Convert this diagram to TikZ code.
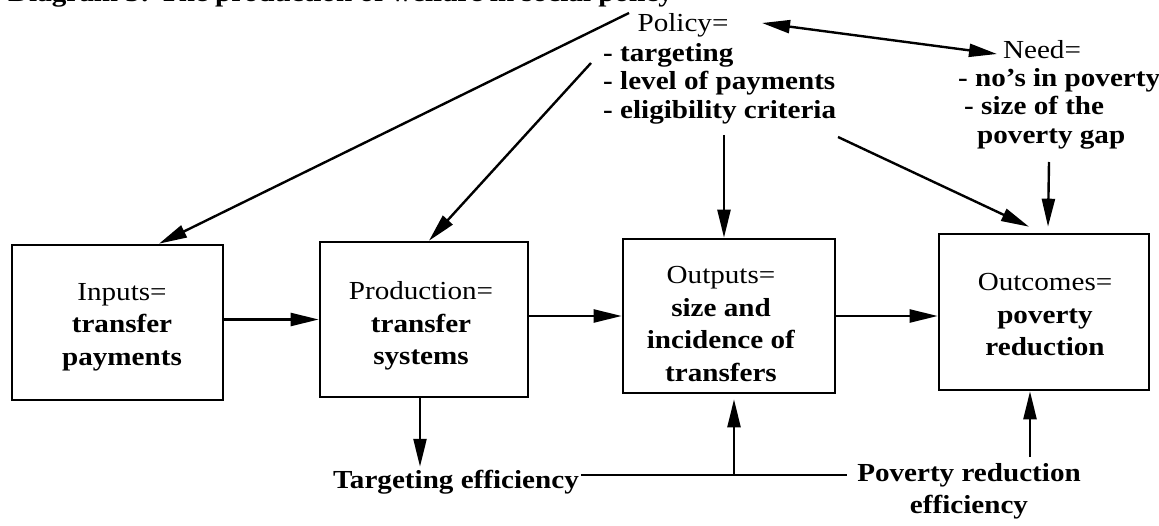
\documentclass[tikz,border=0pt]{standalone}
\usepackage{fontspec}
\setmainfont{Liberation Serif}[FakeStretch=1.12]
\usetikzlibrary{arrows.meta}
\begin{document}
\begin{tikzpicture}[x=1pt,y=-1pt,
  box/.style={draw, line width=2.6pt, inner sep=0pt},
  txt/.style={font=\fontsize{26}{32.5}\selectfont, align=center, inner sep=0pt},
  lst/.style={font=\fontsize{26}{28.5}\selectfont\bfseries, align=left, inner sep=0pt, anchor=west},
  arr/.style={line width=2.4pt, -{Triangle[length=28pt,width=13pt]}},
  dbl/.style={line width=2.4pt, {Triangle[length=28pt,width=13pt]}-{Triangle[length=28pt,width=13pt]}},
  ln/.style={line width=2.2pt}]
\useasboundingbox (0,0) rectangle (1159,526);

% title, cut off at the top edge as in the scan
\begin{scope}
\clip (0,0) rectangle (1159,12);
\node[font=\fontsize{26}{30}\selectfont\bfseries, anchor=base west, inner sep=0pt] (title) at (8,2) {Diagram 3: The production of welfare in social policy};
\end{scope}

% boxes
\node[box, minimum width=211pt, minimum height=155pt] (b1) at (117.5,322.5) {};
\node[box, minimum width=208pt, minimum height=155pt] (b2) at (424,319.5) {};
\node[box, minimum width=212pt, minimum height=154pt] (b3) at (729,316) {};
\node[box, minimum width=210pt, minimum height=156pt] (b4) at (1044,312) {};

% box texts
\node[txt] (t1) at (122,327) {Inputs=\\\textbf{transfer}\\\textbf{payments}};
\node[txt] (t2) at (421,326) {Production=\\\textbf{transfer}\\\textbf{systems}};
\node[txt] (t3) at (721,324) {Outputs=\\\textbf{size and}\\\textbf{incidence of}\\\textbf{transfers}};
\node[txt] (t4) at (1045,315) {Outcomes=\\\textbf{poverty}\\\textbf{reduction}};

% policy and need
\node[txt] (policy) at (683,25) {Policy=};
\node[lst] (polist) at (603,83.5) {- targeting\\- level of payments\\- eligibility criteria};
\node[txt] (need) at (1042,50) {Need=};
\node[lst] (needlist) at (958,108.5) {- no's in poverty\\\hspace*{6pt}- size of the\\\hspace*{19pt}poverty gap};

% efficiency labels
\node[txt, font=\fontsize{26}{32}\selectfont\bfseries] (te) at (456,482) {Targeting efficiency};
\node[txt, font=\fontsize{26}{32}\selectfont\bfseries] (pr) at (969,491) {Poverty reduction\\efficiency};

% coordinates for free ends
\coordinate (p1) at (629,13);
\coordinate (p2) at (591,63);
\coordinate (p3) at (724,135);
\coordinate (p4) at (838,137);
\coordinate (n1) at (1049,162);
\coordinate (d1) at (762,23);
\coordinate (d2) at (997,54);
\coordinate (jl) at ([xshift=2pt,yshift=7pt]te.east);
\coordinate (jr) at (847,475);
\coordinate (j3) at (734,475);
\coordinate (j4) at (1030,457);

% policy / need arrows
\draw[arr] (p1) -- ([xshift=41.5pt]b1.north);
\draw[arr] (p2) -- ([xshift=5pt]b2.north);
\draw[arr] (p3) -- (p3 |- b3.north);
\draw[arr] (p4) -- ([xshift=-15pt,yshift=6pt]b4.north);
\draw[arr] (n1) -- ([xshift=4pt,yshift=6pt]b4.north);
\draw[dbl] (d1) -- (d2);

% flow arrows
\draw[arr] (b1.east |- b2.west) -- (b2.west);
\draw[arr] (b2.east |- b3.west) -- (b3.west);
\draw[arr] (b3.east) -- (b3.east -| b4.west);

% efficiency connectors
\draw[arr] ([xshift=-4pt]b2.south) -- ([xshift=-4pt,yshift=3pt]b2.south |- te.north);
\draw[ln] (jl) -- (jr);
\draw[arr] (j3) -- ([yshift=-5pt]j3 |- b3.south);
\draw[arr] (j4) -- (j4 |- b4.south);
\end{tikzpicture}
\end{document}
